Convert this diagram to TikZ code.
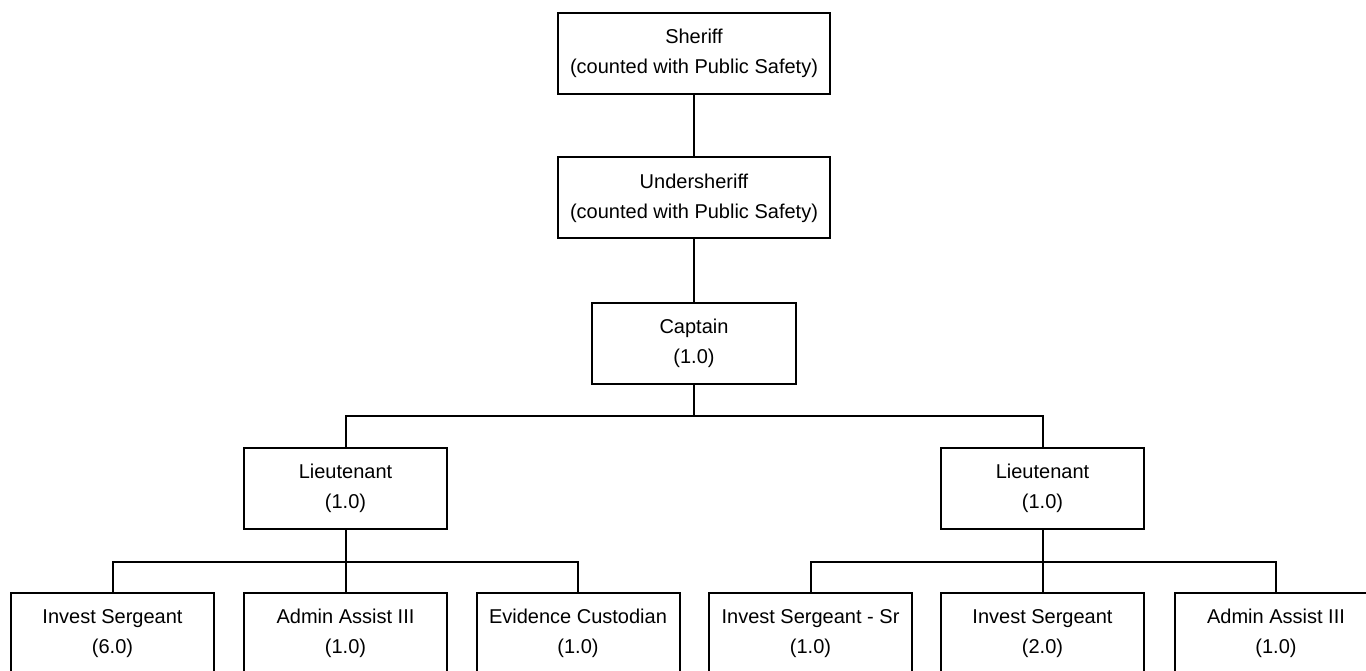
\documentclass[tikz,border=0pt]{standalone}
\usepackage{fontspec}
\setmainfont{Liberation Sans}
\begin{document}
\begin{tikzpicture}[x=1pt,y=-1pt,
  box/.style={draw=black,line width=2pt,fill=white,minimum height=81pt,inner sep=0pt,
    align=center,font=\fontsize{20}{30}\selectfont},
  wide/.style={box,minimum width=272pt},
  norm/.style={box,minimum width=203pt},
  conn/.style={line width=2pt,draw=black}]
\useasboundingbox (0,0) rectangle (1366,671);
\clip (0,0) rectangle (1366,671);
\node[wide] (sheriff) at (694,53.5) {Sheriff\\(counted with Public Safety)};
\node[wide] (under) at (694,198) {Undersheriff\\(counted with Public Safety)};
\node[norm,minimum width=204pt] (captain) at (694,343.5) {Captain\\(1.0)};
\node[norm] (lt1) at (345.5,488) {Lieutenant\\(1.0)};
\node[norm] (lt2) at (1042.5,488) {Lieutenant\\(1.0)};
\node[norm] (b1) at (112.5,633.5) {Invest Sergeant\\(6.0)};
\node[norm] (b2) at (345.5,633.5) {Admin Assist III\\(1.0)};
\node[norm] (b3) at (578,633.5) {Evidence Custodian\\(1.0)};
\node[norm] (b4) at (810.5,633.5) {Invest Sergeant - Sr\\(1.0)};
\node[norm] (b5) at (1042.5,633.5) {Invest Sergeant\\(2.0)};
\node[norm] (b6) at (1276,633.5) {Admin Assist III\\(1.0)};
\coordinate (busA) at (0,416);
\coordinate (busB) at (0,562);
\draw[conn] (sheriff) -- (under);
\draw[conn] (under) -- (captain);
\draw[conn] (captain.south) -- (captain.south|-busA) -| (lt1.north);
\draw[conn] (captain.south|-busA) -| (lt2.north);
\draw[conn] (lt1.south) -- (b2.north);
\draw[conn] (lt1.south|-busB) -| (b1.north);
\draw[conn] (lt1.south|-busB) -| (b3.north);
\draw[conn] (lt2.south) -- (b5.north);
\draw[conn] (lt2.south|-busB) -| (b4.north);
\draw[conn] (lt2.south|-busB) -| (b6.north);
\end{tikzpicture}
\end{document}
